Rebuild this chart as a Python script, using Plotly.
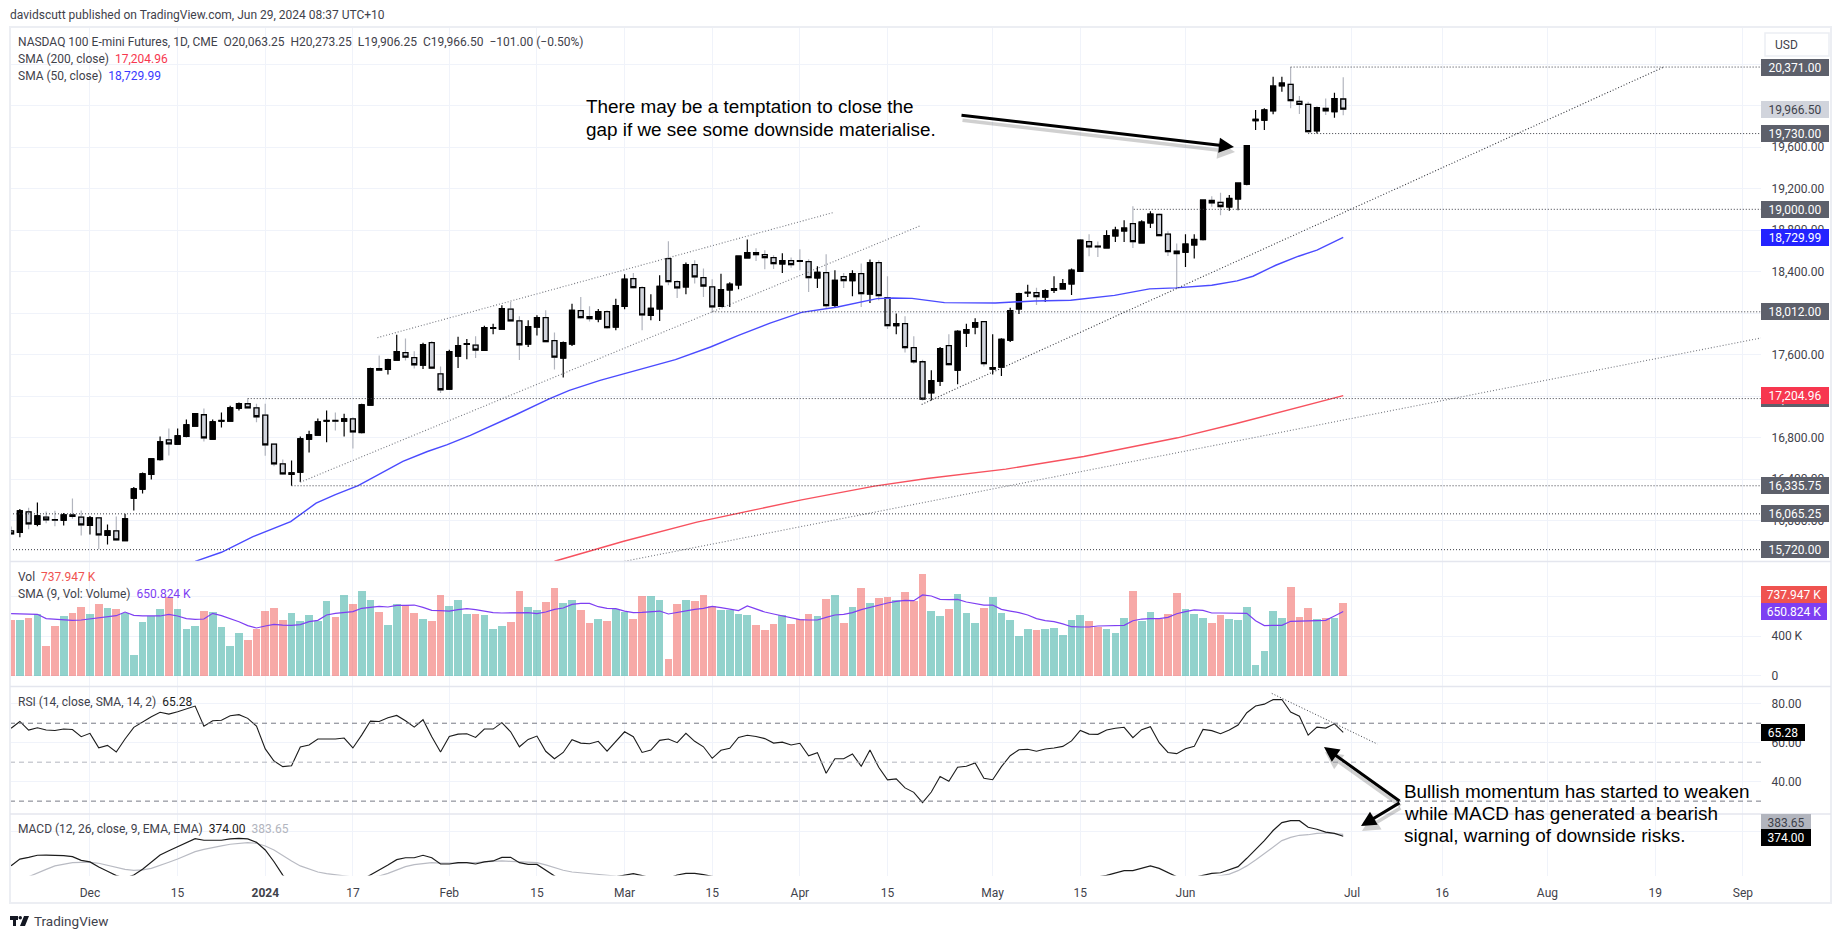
import plotly.graph_objects as go
from plotly.subplots import make_subplots

# ---- data (bar index 0 = first visible session) ----
opens = [
    15901, 15888, 16084, 15965, 16033, 16010, 16004, 16055, 16033, 15955,
    16026, 15859, 15901, 15807, 16216, 16303, 16447, 16589, 16779, 16737,
    16811, 16911, 17020, 16785, 16959, 16959, 17084, 17126, 17087, 17017,
    16737, 16547, 16447, 16467, 16785, 16824, 16959, 16965, 16959, 16981,
    16849, 17113, 17464, 17457, 17547, 17618, 17570, 17499, 17715, 17415,
    17268, 17586, 17698, 17692, 17641, 17853, 17846, 18039, 17924, 17702,
    17866, 17956, 17734, 17567, 17702, 18023, 17965, 17943, 18014, 17866,
    18065, 18332, 18245, 17978, 18040, 18525, 18303, 18252, 18467, 18342,
    18252, 18065, 18223, 18271, 18532, 18583, 18564, 18535, 18474, 18506,
    18506, 18496, 18339, 18390, 18075, 18352, 18313, 18380, 18184, 18487,
    18149, 17879, 17898, 17667, 17531, 17232, 17345, 17686, 17451, 17808,
    17866, 17917, 17461, 17480, 17740, 18040, 18194, 18197, 18155, 18220,
    18233, 18281, 18403, 18689, 18644, 18628, 18744, 18792, 18863, 18676,
    18869, 18950, 18760, 18596, 18587, 18657, 18709, 19085, 19066, 19024,
    19101, 19243, 19854, 19860, 19950, 20191, 20204, 20040, 20011, 19757,
    19973, 19941, 20063.25,
]
highs = [
    15943, 16113, 16123, 16174, 16087, 16094, 16074, 16213, 16097, 16045,
    16033, 15962, 16039, 16065, 16325, 16464, 16602, 16811, 16888, 16888,
    16975, 17036, 17081, 16975, 17042, 17107, 17139, 17176, 17126, 17126,
    16740, 16589, 16579, 16811, 16866, 16985, 17062, 17042, 17030, 16997,
    17126, 17473, 17592, 17560, 17792, 17756, 17631, 17715, 17731, 17486,
    17647, 17772, 17750, 17776, 17879, 17898, 18075, 18107, 17969, 17930,
    17978, 18027, 17814, 17727, 18091, 18155, 18065, 18039, 18027, 18139,
    18374, 18387, 18258, 18181, 18364, 18692, 18316, 18487, 18509, 18429,
    18326, 18380, 18297, 18552, 18709, 18625, 18606, 18557, 18577, 18535,
    18615, 18519, 18451, 18567, 18413, 18387, 18413, 18477, 18516, 18509,
    18355, 17995, 17969, 17776, 17551, 17448, 17673, 17795, 17834, 17898,
    17950, 17921, 17795, 17757, 18052, 18197, 18274, 18245, 18229, 18355,
    18329, 18429, 18709, 18760, 18689, 18799, 18831, 18895, 19030, 18895,
    18982, 18959, 18789, 18670, 18760, 18760, 19095, 19127, 19159, 19137,
    19259, 19619, 19957, 19973, 20278, 20278, 20371, 20092, 20037, 19989,
    20069, 20124, 20273.25,
]
lows = [
    15865, 15840, 15917, 15946, 15975, 15946, 15952, 16017, 15856, 15865,
    15724, 15769, 15807, 15801, 16097, 16261, 16396, 16579, 16628, 16734,
    16804, 16907, 16763, 16782, 16898, 16956, 17062, 17084, 16949, 16624,
    16525, 16441, 16335.75, 16373, 16656, 16817, 16756, 16869, 16811, 16695,
    16843, 17110, 17448, 17409, 17544, 17544, 17467, 17461, 17461, 17229,
    17264, 17470, 17554, 17567, 17634, 17795, 17843, 17920, 17547, 17673,
    17785, 17718, 17457, 17380, 17682, 17946, 17920, 17911, 17850, 17834,
    18036, 18236, 17834, 17930, 17924, 18268, 18146, 18181, 18284, 18155,
    18011, 18059, 18059, 18229, 18532, 18503, 18422, 18426, 18387, 18438,
    18413, 18204, 18242, 18052, 18059, 18242, 18162, 18059, 18097, 18123,
    17847, 17795, 17621, 17512, 17158, 17158, 17297, 17496, 17313, 17673,
    17795, 17486, 17409, 17393, 17721, 17991, 18155, 18078, 18107, 18194,
    18229, 18175, 18397, 18548, 18541, 18628, 18686, 18686, 18628, 18676,
    18821, 18741, 18551, 18236, 18445, 18526, 18702, 19024, 18944, 18985,
    18992, 19233, 19764, 19764, 19915, 20134, 19973, 19918, 19738, 19730,
    19908, 19883, 19906.25,
]
closes = [
    15872, 16094, 15968, 16045, 16007, 16004, 16055, 16042, 15959, 16026,
    15862, 15901, 15814, 16017, 16306, 16451, 16595, 16759, 16740, 16817,
    16923, 17030, 16798, 16952, 16965, 17087, 17126, 17087, 17001, 16730,
    16547, 16451, 16460, 16788, 16827, 16952, 16965, 16959, 16981, 16856,
    17116, 17464, 17451, 17551, 17628, 17576, 17502, 17695, 17470, 17261,
    17628, 17686, 17705, 17644, 17859, 17859, 18043, 17924, 17695, 17869,
    17956, 17724, 17576, 17715, 18027, 17956, 17946, 18014, 17859, 18072,
    18326, 18245, 17982, 18046, 18258, 18303, 18242, 18467, 18348, 18261,
    18059, 18226, 18278, 18548, 18583, 18564, 18535, 18477, 18506, 18467,
    18499, 18342, 18393, 18072, 18316, 18313, 18380, 18188, 18487, 18168,
    17879, 17898, 17667, 17531, 17171, 17348, 17657, 17503, 17824, 17840,
    17908, 17512, 17474, 17747, 18023, 18188, 18200, 18159, 18216, 18236,
    18284, 18413, 18702, 18638, 18638, 18747, 18799, 18818, 18689, 18876,
    18953, 18747, 18593, 18574, 18664, 18709, 19088, 19063, 19027, 19104,
    19252, 19613, 19867, 19957, 20188, 20217, 20047, 20011, 19748, 19979,
    19950, 20067.5, 19966.5,
]

# volume in thousands
volume = [
    565, 565, 585, 626, 301, 504, 606, 636, 697, 626,
    728, 687, 677, 636, 210, 545, 606, 677, 799, 677,
    474, 504, 656, 646, 494, 301, 433, 362, 474, 656,
    687, 565, 636, 555, 616, 555, 758, 596, 819, 728,
    860, 768, 646, 514, 728, 717, 636, 575, 555, 819,
    707, 768, 626, 626, 616, 474, 504, 545, 860, 697,
    667, 748, 890, 738, 768, 667, 535, 575, 555, 684,
    650, 575, 809, 809, 768, 169, 728, 768, 758, 819,
    707, 667, 667, 626, 616, 514, 464, 525, 616, 525,
    575, 626, 606, 778, 819, 535, 697, 890, 738, 788,
    799, 768, 849, 758, 1032, 656, 606, 677, 829, 636,
    535, 687, 799, 636, 565, 403, 474, 464, 474, 484,
    413, 565, 616, 555, 494, 474, 433, 585, 860, 555,
    646, 575, 626, 839, 677, 626, 585, 535, 616, 575,
    565, 697, 108, 250, 656, 585, 900, 596, 687, 575,
    585, 585, 737.947,
]
volume_sma = [
    629, 629, 629, 623, 579, 572, 565, 562, 565, 575,
    592, 599, 609, 646, 612, 606, 606, 606, 623, 606,
    579, 572, 575, 633, 609, 579, 548, 508, 484, 504,
    521, 514, 511, 518, 548, 562, 616, 633, 643, 650,
    684, 697, 704, 697, 714, 714, 717, 694, 663, 660,
    656, 670, 680, 670, 653, 640, 636, 636, 640, 640,
    629, 646, 673, 687, 724, 734, 734, 700, 684, 680,
    656, 640, 643, 646, 656, 626, 643, 663, 673, 684,
    704, 690, 673, 660, 707, 677, 646, 626, 606, 585,
    569, 565, 565, 592, 616, 623, 640, 670, 694, 714,
    738, 755, 765, 761, 819, 809, 775, 772, 775, 748,
    731, 717, 717, 673, 656, 640, 616, 579, 558, 548,
    525, 497, 494, 494, 504, 504, 504, 511, 558, 575,
    579, 579, 592, 629, 650, 667, 663, 636, 636, 633,
    629, 633, 558, 508, 511, 511, 552, 555, 562, 565,
    562, 606, 650.824,
]
rsi = [
    67.4, 70.9, 66.5, 67.7, 66.5, 66.3, 67.0, 66.8, 63.1, 64.8,
    57.4, 58.6, 55.2, 61.9, 67.9, 70.8, 73.3, 75.6, 74.7, 75.9,
    77.3, 78.8, 68.5, 71.3, 71.5, 73.8, 74.4, 72.5, 68.5, 56.8,
    50.6, 47.7, 48.2, 57.8, 58.8, 61.9, 61.9, 61.9, 62.4, 57.3,
    63.9, 71.1, 70.9, 72.8, 74.0, 71.3, 68.0, 71.8, 63.1, 55.2,
    63.2, 64.4, 64.6, 62.7, 67.0, 67.0, 70.3, 65.6, 57.9, 61.7,
    63.4, 55.6, 51.8, 55.0, 61.5, 59.8, 59.5, 60.7, 55.7, 60.9,
    65.6, 63.1, 55.0, 56.2, 61.2, 61.9, 60.0, 64.8, 60.7, 57.9,
    52.0, 56.1, 57.1, 62.7, 63.8, 63.2, 62.1, 59.8, 60.3, 58.8,
    59.7, 53.3, 54.9, 44.3, 51.8, 51.8, 54.2, 47.9, 56.2, 47.4,
    40.9, 41.4, 36.8, 34.5, 29.2, 34.7, 42.7, 40.2, 47.4, 47.9,
    49.6, 41.7, 41.0, 47.7, 53.3, 56.4, 56.6, 55.6, 56.8, 57.3,
    58.1, 60.9, 66.3, 64.4, 64.3, 66.5, 67.4, 67.9, 62.6, 66.7,
    68.2, 60.0, 55.0, 54.4, 56.9, 58.1, 66.8, 66.2, 64.6, 66.5,
    69.1, 75.4, 78.8, 79.8, 82.1, 82.2, 75.7, 73.6, 63.9, 68.0,
    67.5, 69.7, 65.28,
]
# parts below the pane floor are rough guesses, they are clipped anyway
macd = [
    219, 254, 263, 274, 275, 274, 272, 267, 247, 239,
    212, 190, 167, 153, 170, 200, 240, 275, 298, 319,
    340, 361, 353, 353, 353, 360, 363, 360, 342, 302,
    240, 170, 118, 100, 91, 91, 91, 91, 100, 118,
    144, 168, 197, 223, 251, 261, 261, 274, 261, 228,
    228, 235, 235, 228, 239, 244, 263, 263, 235, 226,
    226, 197, 165, 135, 147, 153, 153, 153, 153, 161,
    170, 177, 167, 153, 144, 153, 170, 179, 179, 172,
    161, 150, 140, 130, 125, 120, 110, 105, 100, 95,
    90, 70, 50, 20, 0, -20, -30, -45, -50, -60,
    -80, -110, -140, -170, -200, -210, -200, -190, -170, -150,
    -130, -120, -110, -90, -60, -30, -5, 20, 45, 60,
    80, 100, 125, 145, 160, 168, 181, 193, 193, 205,
    218, 205, 182, 161, 147, 158, 168, 179, 182, 197,
    214, 258, 305, 351, 404, 446, 456, 456, 421, 411,
    396, 389, 374.0,
]
macd_signal = [
    100, 135, 161, 182, 200, 218, 228, 235, 237, 237,
    232, 221, 211, 200, 195, 197, 205, 219, 237, 254,
    274, 293, 305, 316, 323, 332, 337, 340, 337, 323,
    302, 272, 244, 218, 200, 186, 177, 170, 165, 158,
    154, 158, 165, 179, 197, 214, 225, 232, 235, 233,
    232, 233, 235, 235, 239, 242, 244, 242, 240, 237,
    235, 223, 207, 195, 186, 181, 177, 174, 168, 165,
    162, 160, 158, 157, 155, 154, 154, 155, 156, 157,
    157, 155, 153, 150, 146, 142, 138, 132, 128, 122,
    115, 108, 100, 90, 80, 70, 60, 50, 38, 25,
    12, -5, -25, -45, -70, -90, -110, -125, -140, -150,
    -155, -155, -150, -142, -130, -115, -100, -85, -70, -50,
    -30, -10, 10, 30, 50, 70, 85, 100, 112, 122,
    130, 137, 140, 142, 143, 145, 150, 158, 168, 175,
    193, 218, 249, 284, 316, 351, 368, 379, 382, 389,
    391, 389, 383.65,
]

sma50_idx = [21, 24, 27.6, 31.9, 34.8, 37, 39.6, 42, 44.7, 47.5, 49.7, 52.4, 54.7, 57.4, 61.4, 63.7, 67.2, 69.9,
             75.8, 79.8, 83, 86.6, 90.2, 94.3, 98.8, 100.6, 102.8, 106.5, 112.3, 116.8, 120.9, 125.9, 129.9,
             132.9, 137, 139.9, 141.7, 144.3, 146.9, 149, 152]
sma50_val = [15608, 15695, 15846, 15991, 16168, 16251, 16338, 16444, 16570, 16666, 16730, 16821, 16907, 17013, 17174,
             17255, 17351, 17416, 17551, 17673, 17786, 17904, 18007, 18059, 18139, 18146, 18142, 18101, 18097, 18117,
             18123, 18171, 18233, 18243, 18268, 18310, 18355, 18461, 18548, 18606, 18729.99]
sma200_idx = [62, 69.9, 78.25, 86, 90.2, 98.5, 104.5, 113.5, 122.4, 133.1, 139.7, 152]
sma200_val = [15608, 15801, 15985, 16129, 16200, 16332, 16406, 16496, 16618, 16798, 16933, 17204.96]

# drawn levels: price, first bar (None = from the left edge)
level_prices = [20371, 19730, 19000, 18012, 17176, 16335.75, 16065.25, 15720]
level_starts = [146, 148, 128.1, 80, 27, 32, None, None]

# drawn trend lines: (bar, price) -> (bar, price)
trend_a = [41.8, 17763, 93.8, 18969]
trend_b = [33, 16370, 103.7, 18840]
trend_c = [103.9, 17120, 188.5, 20368]
trend_d = [70, 15608, 199.67, 17760]
trend_rsi = [143.85, 85.3, 155.9, 59.3]

price_ticks = [16000, 16400, 16800, 17200, 17600, 18000, 18400, 18800, 19200, 19600, 20000, 20400]
volume_ticks = [0, 400, 800]
volume_tick_text = ["0", "400 K", ""]
rsi_ticks = [40, 60, 80]
macd_ticks = [400]
date_ticks = [9, 19, 29, 39, 50, 60, 70, 80, 90, 100, 112, 122, 134, 153, 163.3, 175.3, 187.6, 197.6]
date_labels = ["Dec", "15", "<b>2024</b>", "17", "Feb", "15", "Mar", "15", "Apr", "15", "May", "15", "Jun",
               "Jul", "16", "Aug", "19", "Sep"]

# ---- page geometry in pixels ----
W, H = 1835, 939
LEFT, AXIS_X, RIGHT = 10, 1761, 1831
TOP, P1, P2, P3, P4, BOTTOM = 27, 561.6, 686.6, 814, 875.6, 903


def fx(x):
    return x / W


def fy(y):
    return 1 - y / H


FONT = "Roboto, sans-serif"
BIG_FONT = "Liberation Sans, Arial, sans-serif"
SIZE = 12
BIG = 18.9
TEXT = "#3f424b"
GRID = "#f0f3fa"
BORDER = "#e4e6ee"
DOWN_FILL = "#d1d4dc"
DOWN_WICK = "#b2b5be"
LABEL_DARK = "#5d606b"
DOT = "1px,2px"

x = list(range(len(closes)))
x_left = (LEFT - 11.1) / 8.764
x_right = (AXIS_X - 11.1) / 8.764

fig = make_subplots(rows=4, cols=1, shared_xaxes=True, vertical_spacing=0)

# wicks first, bodies over them, so that down candles get a lighter wick
fig.add_trace(go.Candlestick(
    x=x, open=opens, high=highs, low=lows, close=closes, whiskerwidth=0,
    increasing=dict(line=dict(color="black", width=1.2), fillcolor="black"),
    decreasing=dict(line=dict(color=DOWN_WICK, width=1.2), fillcolor=DOWN_WICK),
    showlegend=False), row=1, col=1)
fig.add_trace(go.Candlestick(
    x=x, open=opens, close=closes, whiskerwidth=0,
    high=[max(o, c) for o, c in zip(opens, closes)],
    low=[min(o, c) for o, c in zip(opens, closes)],
    increasing=dict(line=dict(color="black", width=1.3), fillcolor="black"),
    decreasing=dict(line=dict(color="black", width=1.3), fillcolor=DOWN_FILL),
    showlegend=False), row=1, col=1)
fig.add_trace(go.Scatter(x=sma200_idx, y=sma200_val, mode="lines", line=dict(color="#f7525f", width=1.4),
                         showlegend=False), row=1, col=1)
fig.add_trace(go.Scatter(x=sma50_idx, y=sma50_val, mode="lines", line=dict(color="#4b4bff", width=1.4),
                         showlegend=False), row=1, col=1)

vol_colors = ["rgba(38,166,154,0.5)" if c >= o else "rgba(239,83,80,0.5)" for o, c in zip(opens, closes)]
fig.add_trace(go.Bar(x=x, y=volume, marker=dict(color=vol_colors, line=dict(width=0)), width=0.88,
                     showlegend=False), row=2, col=1)
fig.add_trace(go.Scatter(x=x, y=volume_sma, mode="lines", line=dict(color="#7e3ff2", width=1.2),
                         showlegend=False), row=2, col=1)

fig.add_trace(go.Scatter(x=x, y=rsi, mode="lines", line=dict(color="#1c1c1c", width=1.1),
                         showlegend=False), row=3, col=1)

fig.add_trace(go.Scatter(x=x, y=macd_signal, mode="lines", line=dict(color="#b9bbc3", width=1.2),
                         showlegend=False), row=4, col=1)
fig.add_trace(go.Scatter(x=x, y=macd, mode="lines", line=dict(color="#1c1c1c", width=1.2),
                         showlegend=False), row=4, col=1)

# horizontal levels
for price, start in zip(level_prices, level_starts):
    fig.add_shape(type="line", xref="x", yref="y", x0=x_left if start is None else start, x1=x_right,
                  y0=price, y1=price, line=dict(color="#3a3c44", width=1, dash=DOT))

# trend lines
for pts, color in [(trend_a, "#74777f"), (trend_b, "#74777f"), (trend_c, "#33353c"), (trend_d, "#74777f")]:
    fig.add_shape(type="line", xref="x", yref="y", x0=pts[0], y0=pts[1], x1=pts[2], y1=pts[3],
                  line=dict(color=color, width=1.1, dash=DOT))
fig.add_shape(type="line", xref="x3", yref="y3", x0=trend_rsi[0], y0=trend_rsi[1], x1=trend_rsi[2], y1=trend_rsi[3],
              line=dict(color="#3a3c44", width=1, dash=DOT))

# rsi bands
for level, color in [(70, "#787b86"), (50, "#b2b5be"), (30, "#787b86")]:
    fig.add_shape(type="line", xref="x3", yref="y3", x0=x_left, x1=x_right, y0=level, y1=level,
                  line=dict(color=color, width=1, dash="5px,4px"))

# frame and pane separators
fig.add_shape(type="rect", xref="paper", yref="paper", x0=fx(LEFT), x1=fx(RIGHT), y0=fy(BOTTOM), y1=fy(TOP),
              line=dict(color="#eceef3", width=2))
for y in [P1, P2, P3]:
    fig.add_shape(type="line", xref="paper", yref="paper", x0=fx(LEFT), x1=fx(RIGHT), y0=fy(y), y1=fy(y),
                  line=dict(color=BORDER, width=1.5))

# USD box
fig.add_shape(type="rect", xref="paper", yref="paper", x0=fx(1765), x1=fx(1829), y0=fy(56), y1=fy(33),
              line=dict(color="#eceef3", width=1.5))

# TradingView mark
mark = ("M {a} {t} L {b} {t} L {b} {m} L {c} {m} L {c} {b2} L {d} {b2} L {d} {m} L {a} {m} Z").format(
    a=fx(10), b=fx(18), c=fx(16), d=fx(13), t=fy(916), m=fy(920), b2=fy(926))
fig.add_shape(type="path", xref="paper", yref="paper", path=mark, fillcolor="#131722", line=dict(width=0))
fig.add_shape(type="circle", xref="paper", yref="paper", x0=fx(18.5), x1=fx(22), y0=fy(919.5), y1=fy(916),
              fillcolor="#131722", line=dict(width=0))
slash = "M {a} {t} L {b} {t} L {c} {d} L {e} {d} Z".format(a=fx(24), b=fx(29), c=fx(25), e=fx(20), t=fy(916), d=fy(926))
fig.add_shape(type="path", xref="paper", yref="paper", path=slash, fillcolor="#131722", line=dict(width=0))


def note(x_px, y_px, text, size=SIZE, color=TEXT, family=FONT):
    fig.add_annotation(xref="paper", yref="paper", x=fx(x_px), y=fy(y_px), text=text, showarrow=False,
                       xanchor="left", yanchor="middle", align="left",
                       font=dict(family=family, size=size, color=color))


def tag(text, y_ref, y_val, width, bg, color="white"):
    fig.add_annotation(xref="paper", yref=y_ref, x=fx(AXIS_X), y=y_val, text=text, showarrow=False,
                       xanchor="left", yanchor="middle", align="center", width=width, height=17,
                       bgcolor=bg, borderpad=0, borderwidth=0, font=dict(family=FONT, size=SIZE, color=color))


def arrow(head, tail, color="black", width=3.0):
    fig.add_annotation(xref="paper", yref="paper", x=fx(head[0]), y=fy(head[1]), text="", showarrow=True,
                       axref="pixel", ayref="pixel", ax=tail[0] - head[0], ay=tail[1] - head[1],
                       arrowhead=2, arrowsize=1, arrowwidth=width, arrowcolor=color)


note(8, 15, "davidscutt published on TradingView.com, Jun 29, 2024 08:37 UTC+10")
note(16, 42, "NASDAQ 100 E-mini Futures, 1D, CME &nbsp;O20,063.25 &nbsp;H20,273.25 &nbsp;L19,906.25 &nbsp;C19,966.50 "
             "&nbsp;\u2212101.00 (\u22120.50%)")
note(16, 59, 'SMA (200, close) &nbsp;<span style="color:#f7374f">17,204.96</span>')
note(16, 76, 'SMA (50, close) &nbsp;<span style="color:#3a3aff">18,729.99</span>')
note(16, 577, 'Vol &nbsp;<span style="color:#ef5350">737.947 K</span>')
note(16, 594, 'SMA (9, Vol: Volume) &nbsp;<span style="color:#7e3ff2">650.824 K</span>')
note(16, 702, 'RSI (14, close, SMA, 14, 2) &nbsp;<span style="color:#1c1c1c">65.28</span>')
note(16, 829, 'MACD (12, 26, close, 9, EMA, EMA) &nbsp;<span style="color:#1c1c1c">374.00</span> '
              '&nbsp;<span style="color:#b2b5be">383.65</span>')
note(32, 921, "TradingView", size=13.5)
note(1773, 45, "USD")

note(584, 106, "There may be a temptation to close the", size=BIG, color="black", family=BIG_FONT)
note(584, 129, "gap if we see some downside materialise.", size=BIG, color="black", family=BIG_FONT)
note(1402, 791, "Bullish momentum has started to weaken", size=BIG, color="black", family=BIG_FONT)
note(1402, 813, "while MACD has generated a bearish", size=BIG, color="black", family=BIG_FONT)
note(1402, 835, "signal, warning of downside risks.", size=BIG, color="black", family=BIG_FONT)

# arrows with a soft offset copy for the shadow
arrow_ends = [((1234, 147), (960, 115)), ((1324, 747), (1401, 802)), ((1361, 826), (1401, 802))]
for head, tail in arrow_ends:
    arrow((head[0] + 1, head[1] + 5), (tail[0] + 1, tail[1] + 5), color="rgba(0,0,0,0.18)", width=3.5)
for head, tail in arrow_ends:
    arrow(head, tail)

# price scale tags, later ones sit on top
tag("17,176.00", "y", 17176, 68, LABEL_DARK)
tag("20,371.00", "y", 20371, 68, LABEL_DARK)
tag("19,966.50", "y", 19966.5, 68, DOWN_FILL, color=TEXT)
tag("19,730.00", "y", 19730, 68, LABEL_DARK)
tag("19,000.00", "y", 19000, 68, LABEL_DARK)
tag("18,729.99", "y", 18729.99, 68, "#2323ff")
tag("18,012.00", "y", 18012, 68, LABEL_DARK)
tag("17,204.96", "y", 17204.96, 68, "#f7374f")
tag("16,335.75", "y", 16335.75, 68, LABEL_DARK)
tag("16,065.25", "y", 16065.25, 68, LABEL_DARK)
tag("15,720.00", "y", 15720, 68, LABEL_DARK)
tag("737.947 K", "paper", fy(594.5), 66, "#ef5350")
tag("650.824 K", "paper", fy(611.5), 66, "#7e3ff2")
tag("65.28", "paper", fy(732.5), 44, "black")
tag("383.65", "paper", fy(822), 50, "#b2b5be", color=TEXT)
tag("374.00", "paper", fy(837.5), 50, "black")

axis_font = dict(family=FONT, size=SIZE, color=TEXT)
xa = dict(domain=[fx(LEFT), fx(AXIS_X)], range=[x_left, x_right], showgrid=True, gridcolor=GRID, gridwidth=1,
          zeroline=False, showline=False, tickvals=date_ticks, ticktext=date_labels, tickfont=axis_font,
          rangeslider=dict(visible=False), ticks="outside", ticklen=6, tickcolor="rgba(0,0,0,0)")
ya = dict(side="right", showgrid=True, gridcolor=GRID, gridwidth=1, zeroline=False, showline=False, tickfont=axis_font,
          ticks="outside", ticklen=7, tickcolor="rgba(0,0,0,0)")

fig.update_layout(
    width=W, height=H, margin=dict(l=0, r=0, t=0, b=0), paper_bgcolor="white", plot_bgcolor="white",
    showlegend=False, bargap=0, boxmode="overlay", boxgap=0.2, font=dict(family=FONT),
    xaxis=dict(**xa, showticklabels=False),
    xaxis2=dict(**xa, showticklabels=False),
    xaxis3=dict(**xa, showticklabels=False),
    xaxis4=dict(**xa, showticklabels=True),
    yaxis=dict(**ya, domain=[fy(P1), fy(TOP)], range=[15605, 20757], tickvals=price_ticks, tickformat=",.2f"),
    yaxis2=dict(**ya, domain=[fy(P2), fy(P1)], range=[-111, 1158], tickvals=volume_ticks, ticktext=volume_tick_text),
    yaxis3=dict(**ya, domain=[fy(P3), fy(P2)], range=[23.4, 88.8], tickvals=rsi_ticks, tickformat=".2f"),
    yaxis4=dict(**ya, domain=[fy(P4), fy(P3)], range=[167, 491], tickvals=macd_ticks, ticktext=[""]),
)

fig.write_html("out.html", config={"displayModeBar": False},
               post_script="document.body.style.margin='0';document.body.style.overflow='hidden';")
